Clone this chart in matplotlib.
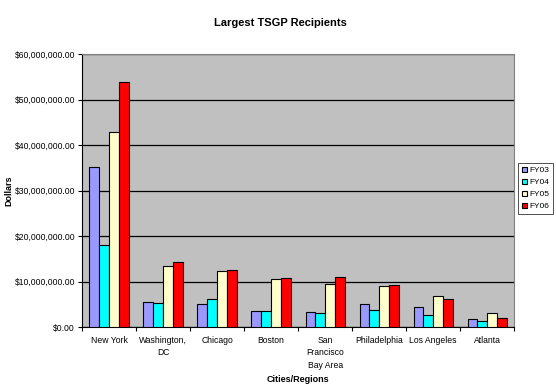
import numpy as np
import matplotlib.pyplot as plt
from matplotlib.ticker import FuncFormatter, FixedLocator

plt.rcParams['font.family'] = ['Liberation Sans', 'DejaVu Sans']

# Data
cities = ['New York', 'Washington,\nDC', 'Chicago', 'Boston', 'San\nFrancisco\nBay Area',
          'Philadelphia', 'Los Angeles', 'Atlanta']
series = ['FY03', 'FY04', 'FY05', 'FY06']
fy03 = [35.2, 5.55, 5.0, 3.65, 3.3, 5.1, 4.5, 1.75]
fy04 = [18.1, 5.3, 6.2, 3.65, 3.05, 3.8, 2.6, 1.3]
fy05 = [42.8, 13.5, 12.3, 10.5, 9.4, 9.1, 6.9, 3.05]
fy06 = [53.9, 14.3, 12.5, 10.9, 11.0, 9.3, 6.2, 2.0]
values = [fy03, fy04, fy05, fy06]
colors = ['#9999FF', '#00FFFF', '#FFFFCC', '#FF0000']

fig = plt.figure(figsize=(5.56, 3.91), dpi=100)
ax = fig.add_axes([0.1475, 0.163, 0.7775, 0.699])
ax.set_facecolor('#C0C0C0')

x = np.arange(len(cities))
w = 1 / 5.5
for i, (name, vals) in enumerate(zip(series, values)):
    ax.bar(x + (i - 1.5) * w, np.array(vals) * 1e6, width=w, color=colors[i],
           edgecolor='black', linewidth=0.8, label=name, zorder=3)

ax.set_xlim(-0.5, len(cities) - 0.5)
ax.set_ylim(0, 60e6)
ax.set_yticks(np.arange(0, 60e6 + 1, 10e6))
ax.yaxis.set_major_formatter(FuncFormatter(lambda v, p: '${:,.2f}'.format(v)))
ax.yaxis.grid(True, color='black', linewidth=0.9, zorder=1)

ax.set_xticks(x)
ax.set_xticklabels(cities, fontsize=6.2, linespacing=1.5)
ax.tick_params(axis='x', which='major', length=0, pad=6)
ax.xaxis.set_minor_locator(FixedLocator(np.arange(-0.5, len(cities), 1.0)))
ax.tick_params(axis='x', which='minor', length=3, width=0.8)
ax.tick_params(axis='y', labelsize=6.2, length=3, width=0.8, pad=2)

for s in ['top', 'right']:
    ax.spines[s].set_color('#808080')
    ax.spines[s].set_linewidth(0.8)
for s in ['left', 'bottom']:
    ax.spines[s].set_color('black')
    ax.spines[s].set_linewidth(0.8)

fig.text(0.016, 0.512, 'Dollars', rotation=90, ha='center', va='center',
         fontsize=6.5, fontweight='bold')
ax.set_xlabel('Cities/Regions', fontsize=6.5, fontweight='bold', labelpad=4)
fig.text(0.505, 0.942, 'Largest TSGP Recipients', ha='center', va='center',
         fontsize=8, fontweight='bold')

leg = fig.legend(loc='center left', bbox_to_anchor=(0.932, 0.518), fontsize=6.0,
                 frameon=True, fancybox=False, edgecolor='black', handlelength=0.7,
                 handleheight=0.7, handletextpad=0.25, borderpad=0.4,
                 labelspacing=0.5, borderaxespad=0)
leg.get_frame().set_linewidth(0.6)

fig.savefig('out.png', dpi=100)
